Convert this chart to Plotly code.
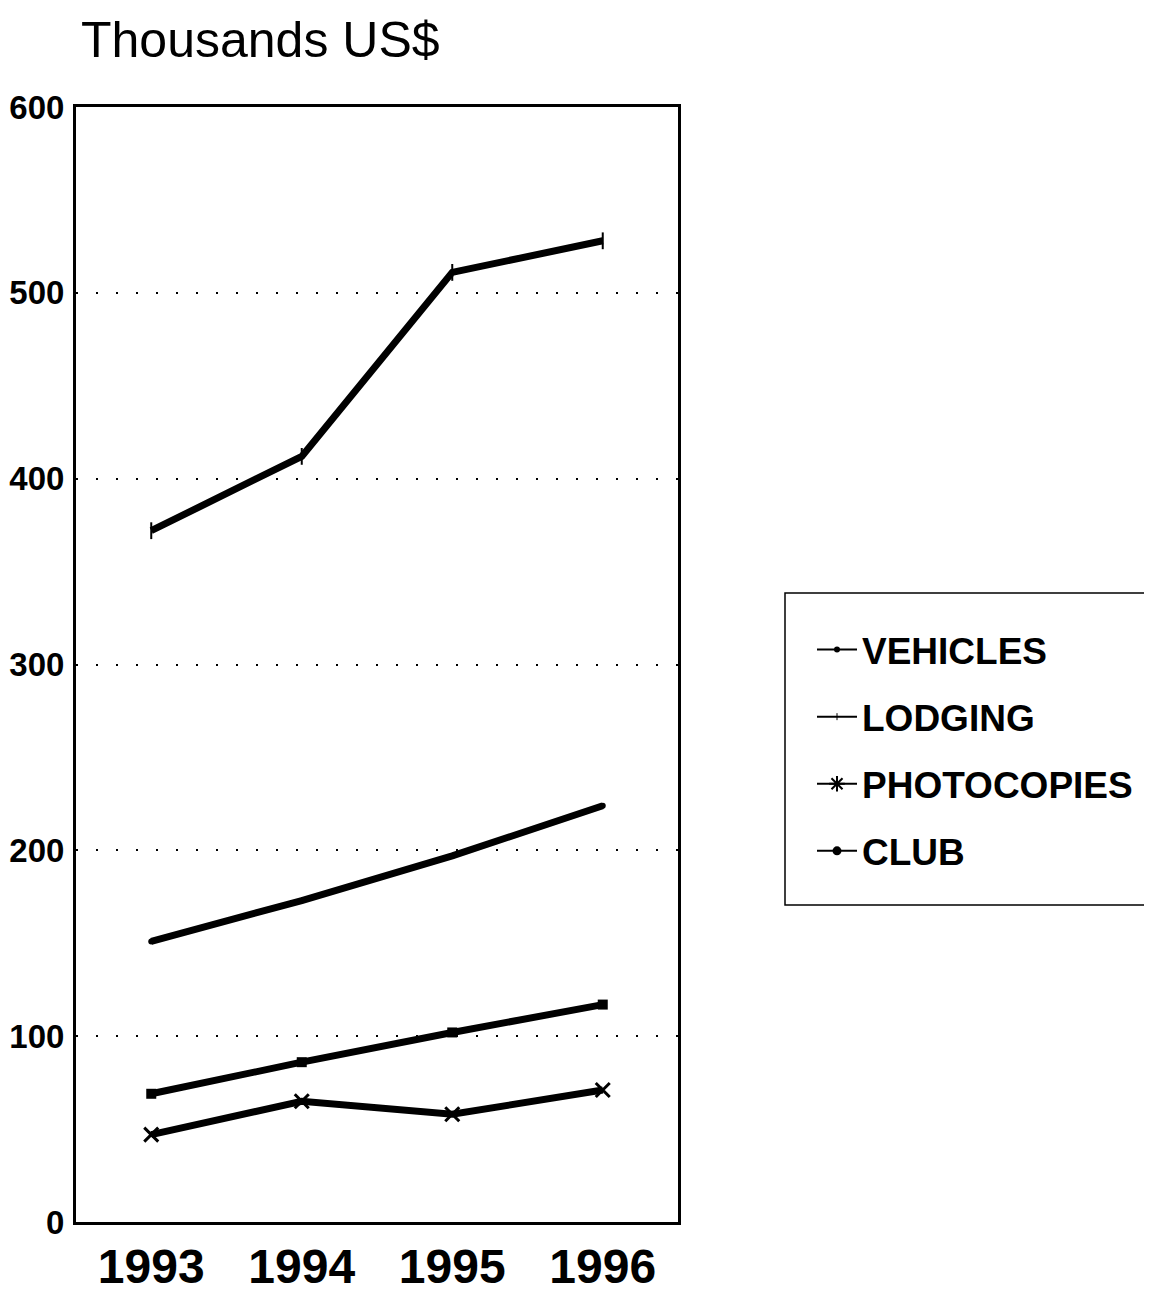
import plotly.graph_objects as go

years = [1993, 1994, 1995, 1996]
vehicles = [151, 173, 197, 224]
lodging = [372, 412, 511, 528]
photocopies = [47, 65, 58, 71]
club = [69, 86, 102, 117]
y_ticks = [0, 100, 200, 300, 400, 500, 600]
title_text = "Thousands US$"

FONT = "Liberation Sans, Arial, Helvetica, sans-serif"

fig = go.Figure()

series = [
    ("VEHICLES", vehicles,
     dict(symbol="circle", size=6, color="black"),
     dict(symbol="circle", size=6, color="black")),
    ("LODGING", lodging,
     dict(symbol="line-ns", size=12, color="black", line=dict(width=2, color="black")),
     dict(symbol="line-ns", size=5, color="black", line=dict(width=1, color="black"))),
    ("PHOTOCOPIES", photocopies,
     dict(symbol="x-thin", size=14, color="black", line=dict(width=3, color="black")),
     dict(symbol="asterisk", size=13, color="black", line=dict(width=2, color="black"))),
    ("CLUB", club,
     dict(symbol="square", size=10, color="black"),
     dict(symbol="circle", size=9, color="black")),
]
for i, (name, vals, mk, lmk) in enumerate(series):
    fig.add_trace(go.Scatter(
        x=years, y=vals, name=name, mode="lines+markers",
        line=dict(color="black", width=7), marker=mk,
        legendgroup=f"g{i}", showlegend=False,
    ))
    # legend-only entry with the thin sample line used in the key
    fig.add_trace(go.Scatter(
        x=[None], y=[None], name=name, mode="lines+markers",
        line=dict(color="black", width=2), marker=lmk,
        legendgroup=f"g{i}", showlegend=True, hoverinfo="skip",
    ))

# page offset (body margin) in screen pixels
OFF = 8
W, H = 1152 - OFF, 1280
# plot area in screen pixels: x 76..678, y 107..1222
L, R = 76 - OFF, W - (678 - OFF)
T, B = 107 - OFF, H - (1222 - OFF)
pw, ph = W - L - R, H - T - B

def sx(px):
    return (px - OFF - L) / pw

def sy(py):
    return (H - B - (py - OFF)) / ph

fig.update_layout(
    width=W, height=H,
    margin=dict(l=L, r=R, t=T, b=B, pad=0, autoexpand=False),
    paper_bgcolor="white", plot_bgcolor="white",
    font=dict(family=FONT, color="black"),
    showlegend=True,
    legend=dict(
        x=sx(812), y=sy(619), xanchor="left", yanchor="top",
        font=dict(family=FONT, size=37, color="black", weight="bold"),
        bgcolor="rgba(0,0,0,0)", borderwidth=0,
        tracegroupgap=16, itemwidth=40,
    ),
    xaxis=dict(
        range=[1992.5, 1996.5], tickvals=years, ticktext=[str(y) for y in years],
        showgrid=False, zeroline=False, automargin=False,
        showline=True, linecolor="black", linewidth=3, mirror=True,
        ticks="", ticklabelstandoff=0,
        tickfont=dict(family=FONT, size=48, color="black", weight="bold"),
    ),
    yaxis=dict(
        range=[0, 600], tickvals=y_ticks, ticktext=[str(v) for v in y_ticks],
        showgrid=True, gridcolor="black", gridwidth=2, griddash="2px,18px",
        zeroline=False, automargin=False,
        showline=True, linecolor="black", linewidth=3, mirror=True,
        ticks="", ticklabelstandoff=2,
        tickfont=dict(family=FONT, size=33, color="black", weight="bold"),
    ),
    annotations=[dict(
        text=title_text, xref="paper", yref="paper",
        x=sx(79), y=sy(40), xanchor="left", yanchor="middle",
        showarrow=False, font=dict(family=FONT, size=50, color="black"),
    )],
    shapes=[dict(
        type="rect", xref="paper", yref="paper",
        x0=sx(785), x1=sx(1170), y0=sy(905), y1=sy(593),
        line=dict(color="black", width=1.5),
    )],
)

fig.write_html("out.html")
